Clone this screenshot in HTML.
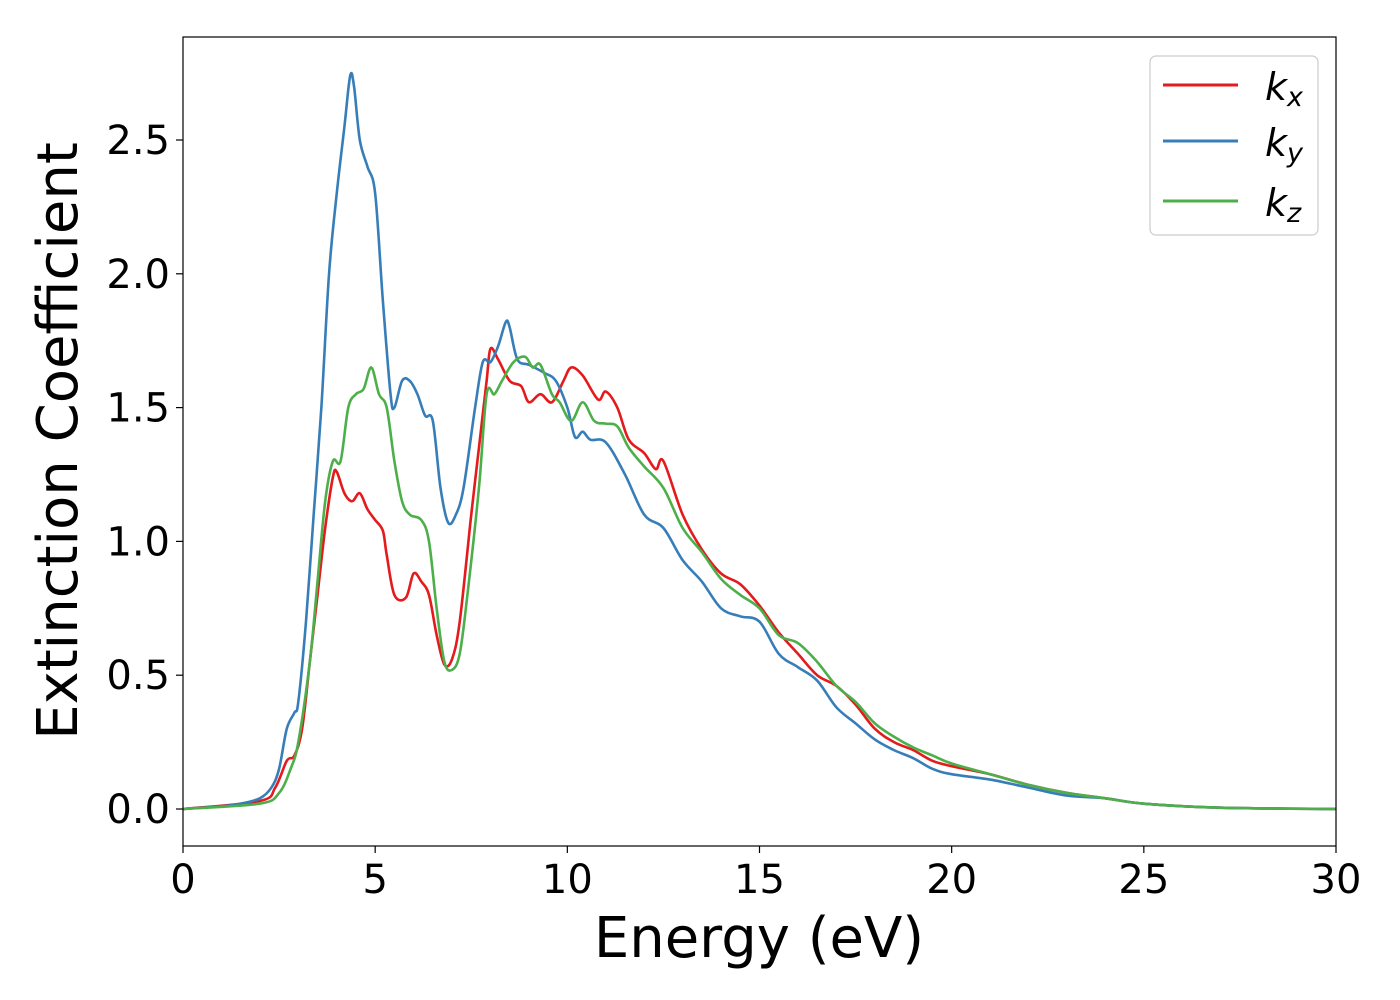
<!DOCTYPE html>
<html><head><meta charset="utf-8"><style>
html,body{margin:0;padding:0;background:#fff;}
svg{display:block;font-family:"DejaVu Sans","Liberation Sans",sans-serif;}
</style></head><body>
<svg id="chart" width="1400" height="1000" viewBox="0 0 1400 1000" xmlns="http://www.w3.org/2000/svg">
<g id="plot"></g>
<rect x="183" y="37" width="1153" height="809" fill="none" stroke="#000" stroke-width="1.2"/>
<g id="ticks"></g>
<text x="759" y="957" font-size="56" text-anchor="middle">Energy (eV)</text>
<text transform="translate(77,441) rotate(-90)" font-size="56" text-anchor="middle">Extinction Coefficient</text>
<g>
<rect x="1150" y="56" width="168" height="179" rx="6" fill="#fff" fill-opacity="0.8" stroke="#ccc" stroke-width="1.2"/>
<line x1="1163" y1="85" x2="1238" y2="85" stroke="#e41a1c" stroke-width="3"/>
<text x="1265" y="100" font-size="38" font-style="italic">k<tspan font-size="27" dy="6">x</tspan></text>
<line x1="1163" y1="141" x2="1238" y2="141" stroke="#377eb8" stroke-width="3"/>
<text x="1265" y="156" font-size="38" font-style="italic">k<tspan font-size="27" dy="6">y</tspan></text>
<line x1="1163" y1="201" x2="1238" y2="201" stroke="#4daf4a" stroke-width="3"/>
<text x="1265" y="216" font-size="38" font-style="italic">k<tspan font-size="27" dy="6">z</tspan></text>
</g>
</svg>
<script>
const xTicks = [0,5,10,15,20,25,30];
const yTicks = [0.0,0.5,1.0,1.5,2.0,2.5];
const yTickLabels = ["0.0","0.5","1.0","1.5","2.0","2.5"];
const kyE = [0,1,1.5,2,2.3,2.5,2.7,2.9,3,3.2,3.4,3.6,3.8,4.0,4.2,4.35,4.45,4.6,4.8,5.0,5.2,5.4,5.5,5.7,5.9,6.1,6.3,6.5,6.7,6.9,7.1,7.3,7.6,7.8,8.0,8.2,8.4,8.5,8.7,9.0,9.4,9.7,10.0,10.2,10.4,10.6,11.0,11.5,12.0,12.5,13.0,13.5,14.0,14.5,15.0,15.5,16.0,16.5,17.0,17.5,18.0,18.5,19,19.5,20,21,22,23,24,25,27,30];
const kyV = [0,0.01,0.02,0.04,0.08,0.15,0.3,0.36,0.4,0.7,1.1,1.5,2.0,2.3,2.55,2.74,2.7,2.5,2.4,2.3,1.9,1.55,1.5,1.6,1.6,1.55,1.47,1.45,1.2,1.07,1.1,1.2,1.5,1.67,1.67,1.73,1.82,1.8,1.68,1.66,1.63,1.6,1.5,1.39,1.41,1.38,1.37,1.25,1.1,1.05,0.93,0.85,0.75,0.72,0.7,0.58,0.53,0.48,0.38,0.32,0.26,0.22,0.19,0.15,0.13,0.11,0.08,0.05,0.04,0.02,0.005,0];
const kxE = [0,2,2.4,2.7,2.9,3.1,3.3,3.5,3.7,3.9,4.0,4.2,4.4,4.6,4.8,5.0,5.2,5.3,5.5,5.8,6.0,6.2,6.4,6.6,6.8,7.0,7.2,7.5,7.7,7.9,8.0,8.2,8.5,8.8,9.0,9.3,9.6,9.9,10.1,10.4,10.8,11.0,11.3,11.6,12.0,12.3,12.5,13.0,13.5,14.0,14.5,15.0,15.5,16.0,16.5,17.0,17.5,18.0,18.5,19,19.5,20,21,22,23,24,25,27,30];
const kxV = [0,0.03,0.08,0.18,0.2,0.3,0.55,0.8,1.05,1.24,1.26,1.18,1.15,1.18,1.12,1.08,1.04,0.95,0.8,0.79,0.88,0.85,0.8,0.65,0.54,0.56,0.7,1.1,1.35,1.6,1.72,1.68,1.6,1.58,1.52,1.55,1.52,1.6,1.65,1.62,1.53,1.56,1.5,1.38,1.33,1.27,1.3,1.1,0.97,0.88,0.84,0.76,0.66,0.58,0.5,0.46,0.39,0.3,0.25,0.22,0.18,0.16,0.13,0.09,0.06,0.04,0.02,0.005,0];
const kzE = [0,2,2.5,2.8,3.0,3.3,3.5,3.7,3.9,4.1,4.3,4.5,4.7,4.9,5.1,5.3,5.5,5.7,5.9,6.2,6.4,6.6,6.8,7.0,7.2,7.4,7.7,7.9,8.1,8.3,8.6,8.9,9.1,9.3,9.6,9.8,10.1,10.4,10.7,11.0,11.3,11.6,12.0,12.5,13.0,13.5,14.0,14.5,15.0,15.5,16.0,16.5,17.0,17.5,18.0,18.5,19,19.5,20,21,22,23,24,25,27,30];
const kzV = [0,0.02,0.06,0.15,0.25,0.55,0.85,1.15,1.3,1.3,1.5,1.55,1.57,1.65,1.55,1.5,1.3,1.15,1.1,1.08,1.0,0.75,0.55,0.52,0.58,0.8,1.2,1.55,1.55,1.6,1.67,1.69,1.65,1.66,1.55,1.52,1.45,1.52,1.45,1.44,1.43,1.35,1.28,1.2,1.05,0.96,0.86,0.8,0.75,0.65,0.62,0.55,0.46,0.4,0.32,0.27,0.23,0.2,0.17,0.13,0.09,0.06,0.04,0.02,0.005,0];

const NS = "http://www.w3.org/2000/svg";
function xs(v){ return 183 + v*(1153/30); }
function ys(v){ return 809 - v*(669/2.5); }

function smoothPath(E, V){
  const p = E.map((e,i)=>[xs(e), ys(V[i])]);
  let d = "M"+p[0][0].toFixed(2)+","+p[0][1].toFixed(2);
  for(let i=0;i<p.length-1;i++){
    const p0=p[Math.max(i-1,0)], p1=p[i], p2=p[i+1], p3=p[Math.min(i+2,p.length-1)];
    const c1x=p1[0]+(p2[0]-p0[0])/6, c1y=p1[1]+(p2[1]-p0[1])/6;
    const c2x=p2[0]-(p3[0]-p1[0])/6, c2y=p2[1]-(p3[1]-p1[1])/6;
    d += "C"+c1x.toFixed(2)+","+c1y.toFixed(2)+" "+c2x.toFixed(2)+","+c2y.toFixed(2)+" "+p2[0].toFixed(2)+","+p2[1].toFixed(2);
  }
  return d;
}

const plot = document.getElementById("plot");
[[kxE,kxV,"#e41a1c","series-kx"],[kyE,kyV,"#377eb8","series-ky"],[kzE,kzV,"#4daf4a","series-kz"]].forEach(s=>{
  const path = document.createElementNS(NS,"path");
  path.setAttribute("d", smoothPath(s[0], s[1]));
  path.setAttribute("fill","none");
  path.setAttribute("stroke", s[2]);
  path.setAttribute("stroke-width","2.6");
  path.setAttribute("stroke-linejoin","round");
  
  
  plot.appendChild(path);
});

const ticks = document.getElementById("ticks");
xTicks.forEach(t=>{
  const l = document.createElementNS(NS,"line");
  l.setAttribute("x1", xs(t)); l.setAttribute("x2", xs(t));
  l.setAttribute("y1", 846); l.setAttribute("y2", 853);
  l.setAttribute("stroke","#000"); l.setAttribute("stroke-width","1.2");
  
  
  ticks.appendChild(l);
  const tx = document.createElementNS(NS,"text");
  tx.setAttribute("x", xs(t)); tx.setAttribute("y", 893);
  tx.setAttribute("font-size","40"); tx.setAttribute("text-anchor","middle");
  tx.textContent = String(t);
  
  
  ticks.appendChild(tx);
});
yTicks.forEach((t,i)=>{
  const l = document.createElementNS(NS,"line");
  l.setAttribute("x1", 176); l.setAttribute("x2", 183);
  l.setAttribute("y1", ys(t)); l.setAttribute("y2", ys(t));
  l.setAttribute("stroke","#000"); l.setAttribute("stroke-width","1.2");
  
  
  ticks.appendChild(l);
  const tx = document.createElementNS(NS,"text");
  tx.setAttribute("x", 170); tx.setAttribute("y", ys(t)+14);
  tx.setAttribute("font-size","40"); tx.setAttribute("text-anchor","end");
  tx.textContent = yTickLabels[i];
  
  
  ticks.appendChild(tx);
});
</script>
</body></html>
